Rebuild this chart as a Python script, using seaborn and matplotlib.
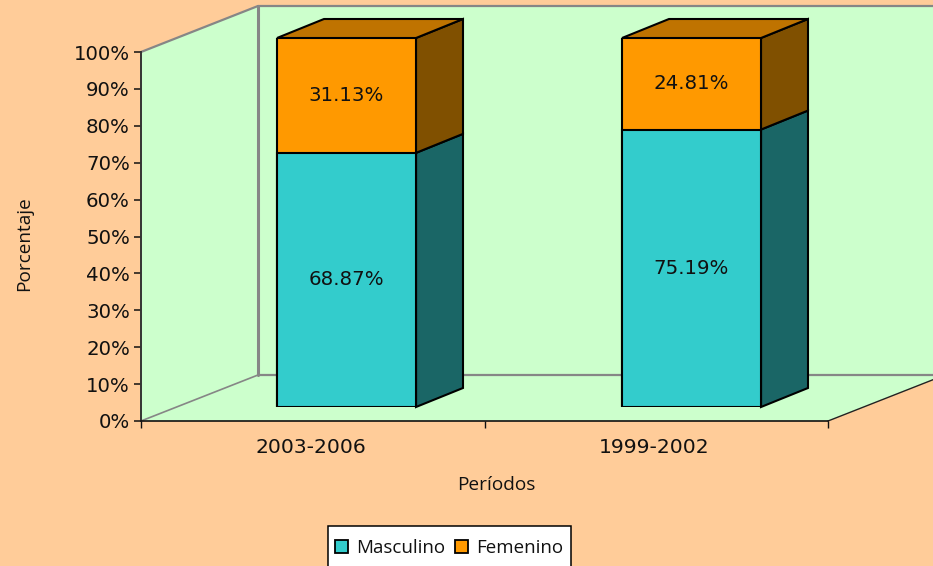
import numpy as np
import pandas as pd
import matplotlib
matplotlib.use("Agg")
import matplotlib.pyplot as plt
from matplotlib.patches import Polygon, Patch, Rectangle
import seaborn as sns

periods = ["2003-2006", "1999-2002"]
masculino = [68.87, 75.19]
femenino = [31.13, 24.81]
y_ticks = list(range(0, 101, 10))

BG = "#FFCC99"; WALL = "#CCFFCC"; GREY = "#868686"
TEAL = "#33CCCC"; TEAL_D = "#1A6666"
ORANGE = "#FF9900"; ORANGE_D = "#805000"; ORANGE_T = "#BF7300"

sns.set_style("white")
plt.rcParams["font.family"] = ["Open Sans", "DejaVu Sans"]
FS = 13.5
NUM_FS = 14.2
NUM_FONT = "DejaVu Sans"
TXT = "#111111"

W, H = 933, 566
fig = plt.figure(figsize=(W / 100, H / 100), dpi=100, facecolor=BG)

def px_axes(x0, y_top, x1, y_bot):
    return fig.add_axes([x0 / W, 1 - y_bot / H, (x1 - x0) / W, (y_bot - y_top) / H])

# Main axes: the front plane of the chart box
ax = px_axes(141, 52, 828, 421)
ax.set_facecolor("none")
ax.set_xlim(-0.5, 1.5)
ax.set_ylim(0, 100)
dx = 117 / 343.5
dy = 46 / 3.69

left_wall = Polygon([(-0.5, 0), (-0.5 + dx, dy), (-0.5 + dx, 100 + dy), (-0.5, 100)],
                    fc=WALL, ec="none", clip_on=False, zorder=0.1)
back_wall = Polygon([(-0.5 + dx, dy), (1.5 + dx, dy), (1.5 + dx, 100 + dy), (-0.5 + dx, 100 + dy)],
                    fc=WALL, ec="none", clip_on=False, zorder=0.1)
floor = Polygon([(-0.5, 0), (-0.5 + dx, dy), (1.5 + dx, dy), (1.5, 0)],
                fc=WALL, ec="none", clip_on=False, zorder=0.1)
for p in (left_wall, back_wall, floor):
    ax.add_patch(p)
ax.plot([-0.5 + dx, -0.5 + dx], [dy, 100 + dy], color=GREY, lw=2.2, clip_on=False, zorder=0.2)
ax.plot([-0.5 + dx, 1.5 + dx], [100 + dy, 100 + dy], color=GREY, lw=1.6, clip_on=False, zorder=0.2)
ax.plot([-0.5 + dx, 1.5 + dx], [dy, dy], color=GREY, lw=1.6, clip_on=False, zorder=0.2)
ax.plot([-0.5, -0.5 + dx], [100, 100 + dy], color=GREY, lw=1.6, clip_on=False, zorder=0.2)
ax.plot([-0.5, -0.5 + dx], [0, dy], color=GREY, lw=1.2, clip_on=False, zorder=0.2)
ax.plot([1.5, 1.5 + dx], [0, dy], color="#222222", lw=1.0, clip_on=False, zorder=0.2)

for s in ("top", "right"):
    ax.spines[s].set_visible(False)
ax.spines["left"].set_color("#333333")
ax.spines["left"].set_linewidth(1.4)
ax.spines["bottom"].set_color("#111111")
ax.spines["bottom"].set_linewidth(1.2)
ax.grid(False)

ax.set_yticks(y_ticks)
ax.set_yticklabels([f"{v}%" for v in y_ticks], fontsize=NUM_FS, color=TXT, family=NUM_FONT)
ax.set_xticks([-0.5, 0.5, 1.5])
ax.set_xticklabels([])
ax.set_xticks([-0.005, 0.995], minor=True)
ax.set_xticklabels(periods, minor=True, fontsize=NUM_FS + 0.4, color=TXT, family=NUM_FONT)
ax.tick_params(axis="y", which="major", left=True, length=5, width=1.1, color="#111111", pad=3)
ax.tick_params(axis="x", which="major", bottom=True, length=5, width=1.0, color="#111111")
ax.tick_params(axis="x", which="minor", bottom=False, length=0, pad=12.5)

ax.set_xlabel("Períodos", fontsize=FS + 0.2, color=TXT, va="center")
ax.xaxis.set_label_coords((496 - 141) / 687, (421 - 485) / 369)
ax.set_ylabel("Porcentaje", fontsize=FS + 0.2, color=TXT, va="center")
ax.yaxis.set_label_coords((24 - 141) / 687, (421 - 244) / 369)

# Overlay axes: the plane of the bar fronts
bx = px_axes(174, 38, 864, 407)
bx.patch.set_visible(False)
totals = [m + f for m, f in zip(masculino, femenino)]
df = pd.DataFrame({"period": periods, "masculino": masculino, "total": totals})
bar_w = 139 / 345
sns.barplot(data=df, x="period", y="total", color=ORANGE, saturation=1, width=bar_w,
            edgecolor="black", linewidth=1.5, ax=bx, zorder=3)
sns.barplot(data=df, x="period", y="masculino", color=TEAL, saturation=1, width=bar_w,
            edgecolor="black", linewidth=1.5, ax=bx, zorder=3)
bx.set_xlim(-0.5, 1.5)
bx.set_ylim(0, 100)
bx.axis("off")

ddx = 47 / 345
ddy = 19 / 3.69
for i, (m, t) in enumerate(zip(masculino, totals)):
    r = i + bar_w / 2
    l = i - bar_w / 2
    kw = dict(ec="black", lw=1.5, clip_on=False, joinstyle="miter", zorder=2)
    bx.add_patch(Polygon([(r, 0), (r + ddx, ddy), (r + ddx, m + ddy), (r, m)], fc=TEAL_D, **kw))
    bx.add_patch(Polygon([(r, m), (r + ddx, m + ddy), (r + ddx, t + ddy), (r, t)], fc=ORANGE_D, **kw))
    bx.add_patch(Polygon([(l, t), (l + ddx, t + ddy), (r + ddx, t + ddy), (r, t)], fc=ORANGE_T, **kw))
    bx.text(i, m / 2, f"{m:.2f}%", ha="center", va="center", fontsize=NUM_FS, color=TXT,
            family=NUM_FONT, zorder=5)
    bx.text(i, m + (t - m) / 2, f"{t - m:.2f}%", ha="center", va="center", fontsize=NUM_FS, color=TXT,
            family=NUM_FONT, zorder=5)

# Legend: white box running past the bottom of the picture
fig.add_artist(Rectangle((328 / W, -4 / H), 243 / W, (566 - 526 + 4) / H,
                         transform=fig.transFigure, fc="white", ec="black", lw=1.1, zorder=5))
handles = [Patch(fc=TEAL, ec="black", lw=1.3, label="Masculino"),
           Patch(fc=ORANGE, ec="black", lw=1.3, label="Femenino")]
leg = fig.legend(handles=handles, ncol=2, loc="center left",
                 bbox_to_anchor=(335 / W, 1 - 548 / H), borderaxespad=0, borderpad=0,
                 frameon=False, fontsize=FS, handlelength=0.69, handleheight=0.69,
                 handletextpad=0.43, columnspacing=0.53, labelcolor=TXT)
leg.set_zorder(6)

fig.savefig("out.png", dpi=100, facecolor=BG)
